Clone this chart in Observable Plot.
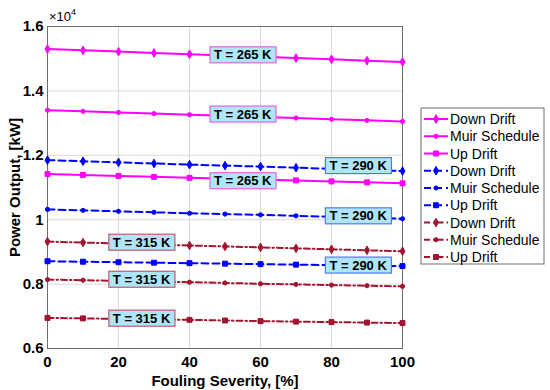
<!DOCTYPE html>
<html><head><meta charset="utf-8">
<script src="https://cdn.jsdelivr.net/npm/d3@7"></script>
<script src="https://cdn.jsdelivr.net/npm/@observablehq/plot@0.6"></script>
<style>
body{margin:0;background:#fff}
#chart svg{font-family:"Liberation Sans",Arial,sans-serif;overflow:visible}
</style>
</head><body><div id="chart"></div>
<script>
// ---- data (Power Output in kW) ----
const fouling = [0,10,20,30,40,50,60,70,80,90,100];
const down265 = [15300,15260,15220,15180,15140,15100,15060,15020,14980,14940,14900];
const muir265 = [13400,13365,13330,13295,13260,13225,13190,13155,13120,13085,13050];
const up265   = [11420,11390,11360,11330,11300,11275,11250,11220,11190,11160,11130];
const down290 = [11850,11815,11780,11745,11710,11680,11650,11615,11580,11545,11510];
const muir290 = [10320,10290,10260,10230,10200,10175,10150,10120,10090,10060,10030];
const up290   = [8710,8695,8680,8665,8650,8635,8620,8605,8590,8575,8560];
const down315 = [9320,9290,9260,9230,9200,9170,9140,9110,9080,9050,9020];
const muir315 = [8140,8120,8100,8080,8060,8035,8010,7990,7970,7950,7930];
const up315   = [6950,6935,6920,6905,6890,6870,6850,6835,6820,6805,6790];

const seriesNames = ["Down Drift","Muir Schedule","Up Drift","Down Drift","Muir Schedule","Up Drift","Down Drift","Muir Schedule","Up Drift"];
const seriesTemps = [265,265,265,290,290,290,315,315,315];
const seriesValues = [down265,muir265,up265,down290,muir290,up290,down315,muir315,up315];

const tempColors = {265:"#ff00ff",290:"#0000ff",315:"#a2142f"};
const tempDash = {265:null,290:"7,4",315:"6,3,1.5,3"};
const nameSymbol = {"Down Drift":"diamond","Muir Schedule":"circle","Up Drift":"square"};
const nameR = {"Down Drift":2.6,"Muir Schedule":2.1,"Up Drift":2.8};

// annotation labels
const labelText = ["T = 265 K","T = 265 K","T = 265 K","T = 290 K","T = 290 K","T = 290 K","T = 315 K","T = 315 K","T = 315 K"];
const labelX = [55,55,55,87.5,87.5,87.5,26.5,26.5,26.5];
const labelY = [15110,13270,11200,11670,10110,8580,9290,8140,6930];
const labelTemp = [265,265,265,290,290,290,315,315,315];
const labelBorder = {265:"#e066e0",290:"#5577ff",315:"#c05a6e"};

const yTicks = [6000,8000,10000,12000,14000,16000];
const xTicks = [0,20,40,60,80,100];

// ---- build table ----
const rows = [];
seriesValues.forEach((vals, s) => {
  vals.forEach((v, i) => rows.push({x: fouling[i], y: v, s, name: seriesNames[s], temp: seriesTemps[s]}));
});
const labels = labelText.map((t, i) => ({text: t, x: labelX[i], y: labelY[i], temp: labelTemp[i]}));

const marks = [
  Plot.gridX(xTicks, {stroke:"#d9d9d9", strokeOpacity:1}),
  Plot.gridY(yTicks, {stroke:"#d9d9d9", strokeOpacity:1}),
  Plot.frame({stroke:"#6e6e6e", strokeWidth:1}),
  Plot.axisX(xTicks, {tickSize:0, tickPadding:8, fontSize:15, fontWeight:"bold", label:"Fouling Severity, [%]", labelArrow:"none", labelAnchor:"center", labelOffset:37}),
  Plot.axisY(yTicks, {tickSize:0, tickPadding:4, fontSize:15, fontWeight:"bold", tickFormat: d => String(d/1e4), label:"Power Output, [kW]", labelArrow:"none", labelAnchor:"center", labelOffset:38})
];
[265,290,315].forEach(t => {
  const d = rows.filter(r => r.temp === t);
  marks.push(Plot.line(d, {x:"x", y:"y", z:"s", stroke: tempColors[t], strokeWidth:2, strokeDasharray: tempDash[t] || undefined}));
});
seriesValues.forEach((vals, s) => {
  const d = rows.filter(r => r.s === s);
  const c = tempColors[seriesTemps[s]];
  marks.push(Plot.dot(d, {x:"x", y:"y", symbol: nameSymbol[seriesNames[s]], r: nameR[seriesNames[s]], fill: c, stroke: c, strokeWidth:1}));
});
marks.push(Plot.text(labels, {x:"x", y:"y", text:"text", fontSize:13, fontWeight:"bold", fill:"#000"}));

const chart = Plot.plot({
  width: 550, height: 390,
  marginLeft: 47, marginRight: 148, marginTop: 26, marginBottom: 42,
  x: {domain:[0,100], label:null},
  y: {domain:[6000,16000], label:null},
  marks
});
document.getElementById("chart").appendChild(chart);
const svg = d3.select(chart);

// axis label styling (strip any arrow)
svg.selectAll('[aria-label="x-axis label"] text, [aria-label="y-axis label"] text')
  .style("font-size","15px").style("font-weight","bold").attr("fill","#000")
  .each(function() { this.textContent = this.textContent.replace(/\s*[→↑←↓]\s*/g, "").trim(); });
svg.selectAll('[aria-label="x-axis tick label"] text, [aria-label="y-axis tick label"] text')
  .attr("fill","#000");

// label boxes behind annotation texts
const annTexts = Array.from(chart.querySelectorAll("text")).filter(el => /^T = \d+ K$/.test(el.textContent.trim()));
annTexts.forEach((el, i) => {
  const b = el.getBBox();
  const lab = labels[i];
  const rect = document.createElementNS("http://www.w3.org/2000/svg", "rect");
  const w = Math.max(b.width, 58), h = Math.max(b.height, 15);
  const cx = b.width ? b.x + b.width / 2 : 0, cy = b.height ? b.y + b.height / 2 : 0;
  rect.setAttribute("x", cx - w / 2 - 4);
  rect.setAttribute("y", cy - h / 2 - 0.5);
  rect.setAttribute("width", w + 8);
  rect.setAttribute("height", h + 1);
  if (el.getAttribute("transform")) rect.setAttribute("transform", el.getAttribute("transform"));
  rect.setAttribute("fill", "#aee6f8");
  rect.setAttribute("stroke", labelBorder[lab ? lab.temp : 265]);
  rect.setAttribute("stroke-width", "1.2");
  el.parentNode.insertBefore(rect, el);
});

// x10^4 multiplier
const mult = svg.append("text").attr("x", 49).attr("y", 21).attr("text-anchor", "start")
  .attr("font-size", 13).attr("fill", "#000");
mult.append("tspan").text("×10");
mult.append("tspan").attr("font-size", 9).attr("dy", -6).text("4");

// legend
const lg = svg.append("g").attr("text-anchor", "start");
const lx = 421, ly = 108, lw = 123, rowH = 17.25;
lg.append("rect").attr("x", lx).attr("y", ly).attr("width", lw).attr("height", 156)
  .attr("fill", "#fff").attr("stroke", "#6e6e6e").attr("stroke-width", 1);
seriesNames.forEach((n, s) => {
  const t = seriesTemps[s], c = tempColors[t];
  const cy = ly + 11 + s * rowH;
  lg.append("line").attr("x1", lx + 3).attr("x2", lx + 27).attr("y1", cy).attr("y2", cy)
    .attr("stroke", c).attr("stroke-width", 2).attr("stroke-dasharray", tempDash[t]);
  const sym = {"diamond": d3.symbolDiamond, "circle": d3.symbolCircle, "square": d3.symbolSquare}[nameSymbol[n]];
  const r = nameR[n];
  lg.append("path").attr("d", d3.symbol(sym, Math.PI * r * r)())
    .attr("transform", `translate(${lx + 15},${cy})`).attr("fill", c).attr("stroke", c).attr("stroke-width", 1);
  lg.append("text").attr("x", lx + 29).attr("y", cy).attr("dy", "0.36em").attr("text-anchor", "start")
    .attr("font-size", 14).attr("fill", "#000").text(n);
});
</script>
</body></html>
